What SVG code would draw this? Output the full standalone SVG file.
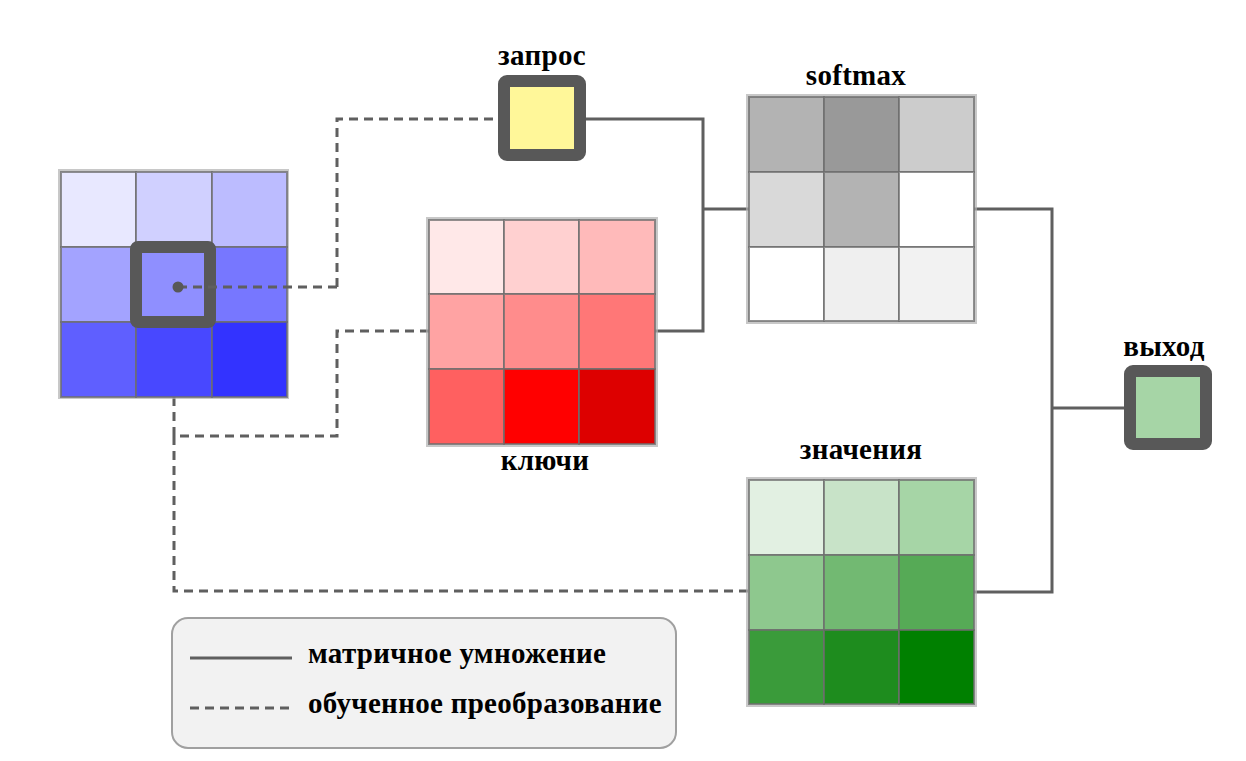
<svg xmlns="http://www.w3.org/2000/svg" width="1246" height="761" viewBox="0 0 1246 761">
<style>
.lbl{font-family:"Liberation Serif","Times New Roman",serif;font-weight:bold;font-size:29px;letter-spacing:0.3px;fill:#000}
.cell{stroke:#6e6e6e;stroke-width:2;stroke-opacity:0.75}
.frame{fill:none;stroke:#b0b0b0;stroke-width:4;stroke-opacity:0.7}
.solid{fill:none;stroke:#5f5f5f;stroke-width:3}
.dash{fill:none;stroke:#5f5f5f;stroke-width:3;stroke-dasharray:9 6}
.box{stroke:#585858;stroke-width:12}
</style>
<rect width="1246" height="761" fill="#fff"/>
<g id="connectors">
<path class="dash" d="M337,287 V119 H498"/>
<path class="dash" d="M174,397 V436 H337 V331 H429"/>
<path class="dash" d="M174,436 V591 H749"/>
<path class="solid" d="M586,119 H703 V331 H655"/>
<path class="solid" d="M703,209 H749"/>
<path class="solid" d="M974,209 H1052 V592 H974"/>
<path class="solid" d="M1052,408 H1124"/>
</g>
<g id="input">
<rect class="frame" x="60" y="171" width="227" height="226"/>
<rect class="cell" x="61" y="172" width="75" height="75" fill="#e8e8ff"/>
<rect class="cell" x="136" y="172" width="76" height="75" fill="#d0d0ff"/>
<rect class="cell" x="212" y="172" width="75" height="75" fill="#bcbcff"/>
<rect class="cell" x="61" y="247" width="75" height="75" fill="#a3a3ff"/>
<rect class="cell" x="136" y="247" width="76" height="75" fill="#8f8fff"/>
<rect class="cell" x="212" y="247" width="75" height="75" fill="#7777ff"/>
<rect class="cell" x="61" y="322" width="75" height="75" fill="#5f5fff"/>
<rect class="cell" x="136" y="322" width="76" height="75" fill="#4848ff"/>
<rect class="cell" x="212" y="322" width="75" height="75" fill="#3333ff"/>
<rect class="box" x="136" y="247" width="74" height="75" rx="2" fill="#8f8fff"/>
<path class="dash" d="M178,287 H337"/>
<circle cx="178" cy="287" r="5.5" fill="#585858"/>
</g>
<g id="query">
<rect class="box" x="504" y="81" width="76" height="74" rx="3" fill="#fff799"/>
<text class="lbl" x="542" y="65" text-anchor="middle">запрос</text>
</g>
<g id="keys">
<rect class="frame" x="428" y="219" width="228" height="226"/>
<rect class="cell" x="429" y="220" width="75" height="74" fill="#ffe8e8"/>
<rect class="cell" x="504" y="220" width="75" height="74" fill="#ffd0d0"/>
<rect class="cell" x="579" y="220" width="76" height="74" fill="#ffbaba"/>
<rect class="cell" x="429" y="294" width="75" height="75" fill="#ffa3a3"/>
<rect class="cell" x="504" y="294" width="75" height="75" fill="#ff8c8c"/>
<rect class="cell" x="579" y="294" width="76" height="75" fill="#ff7777"/>
<rect class="cell" x="429" y="369" width="75" height="75" fill="#ff6060"/>
<rect class="cell" x="504" y="369" width="75" height="75" fill="#ff0000"/>
<rect class="cell" x="579" y="369" width="76" height="75" fill="#dd0000"/>
<text class="lbl" x="545" y="470" text-anchor="middle">ключи</text>
</g>
<g id="softmax">
<rect class="frame" x="748" y="96" width="227" height="226"/>
<rect class="cell" x="749" y="97" width="75" height="75" fill="#b3b3b3"/>
<rect class="cell" x="824" y="97" width="75" height="75" fill="#999999"/>
<rect class="cell" x="899" y="97" width="75" height="75" fill="#cccccc"/>
<rect class="cell" x="749" y="172" width="75" height="75" fill="#d9d9d9"/>
<rect class="cell" x="824" y="172" width="75" height="75" fill="#b3b3b3"/>
<rect class="cell" x="899" y="172" width="75" height="75" fill="#ffffff"/>
<rect class="cell" x="749" y="247" width="75" height="74" fill="#ffffff"/>
<rect class="cell" x="824" y="247" width="75" height="74" fill="#efefef"/>
<rect class="cell" x="899" y="247" width="75" height="74" fill="#f2f2f2"/>
<text class="lbl" x="856" y="85" text-anchor="middle">softmax</text>
</g>
<g id="values">
<rect class="frame" x="748" y="479" width="227" height="226"/>
<rect class="cell" x="749" y="480" width="75" height="75" fill="#e2f0e2"/>
<rect class="cell" x="824" y="480" width="75" height="75" fill="#c8e3c8"/>
<rect class="cell" x="899" y="480" width="75" height="75" fill="#a6d5a6"/>
<rect class="cell" x="749" y="555" width="75" height="75" fill="#8ec88e"/>
<rect class="cell" x="824" y="555" width="75" height="75" fill="#72b972"/>
<rect class="cell" x="899" y="555" width="75" height="75" fill="#56aa56"/>
<rect class="cell" x="749" y="630" width="75" height="74" fill="#3a9b3a"/>
<rect class="cell" x="824" y="630" width="75" height="74" fill="#1e8c1e"/>
<rect class="cell" x="899" y="630" width="75" height="74" fill="#008000"/>
<text class="lbl" x="861" y="459" text-anchor="middle">значения</text>
</g>
<g id="output">
<rect class="box" x="1130" y="371" width="76" height="73" rx="3" fill="#a6d5a6"/>
<text class="lbl" x="1164" y="356" text-anchor="middle">выход</text>
</g>
<g id="legend">
<rect x="172" y="618" width="504" height="130" rx="16" fill="#f2f2f2" stroke="#a0a0a0" stroke-width="2"/>
<path class="solid" d="M190,658 H292"/>
<path class="dash" d="M190,708 H292"/>
<text class="lbl" x="308" y="663">матричное умножение</text>
<text class="lbl" x="308" y="713">обученное преобразование</text>
</g>
</svg>
